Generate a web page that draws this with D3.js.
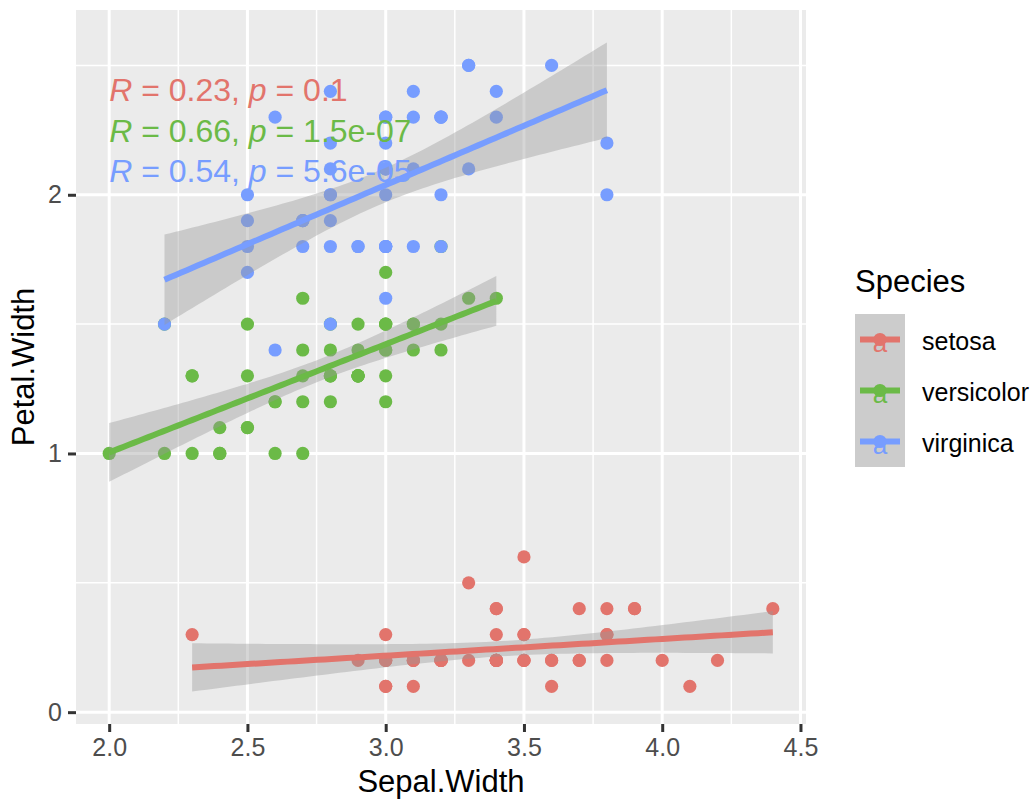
<!DOCTYPE html>
<html>
<head>
<meta charset="utf-8">
<script src="https://cdn.jsdelivr.net/npm/d3@7"></script>
<style>
  html, body { margin: 0; padding: 0; background: #ffffff; }
  svg { display: block; }
  text { font-family: "Liberation Sans", Arial, Helvetica, sans-serif; }
</style>
</head>
<body>
<svg id="chart" width="1036" height="802"></svg>
<script>
// ---------------- DATA ----------------
const species = ["setosa", "versicolor", "virginica"];
const speciesColors = ["#E2746C", "#6BBA47", "#779DFF"];

const setosaSepalWidth = [3.5,3.0,3.2,3.1,3.6,3.9,3.4,3.4,2.9,3.1,3.7,3.4,3.0,3.0,4.0,4.4,3.9,3.5,3.8,3.8,3.4,3.7,3.6,3.3,3.4,3.0,3.4,3.5,3.4,3.2,3.1,3.4,4.1,4.2,3.1,3.2,3.5,3.6,3.0,3.4,3.5,2.3,3.2,3.5,3.8,3.0,3.8,3.2,3.7,3.3];
const setosaPetalWidth = [0.2,0.2,0.2,0.2,0.2,0.4,0.3,0.2,0.2,0.1,0.2,0.2,0.1,0.1,0.2,0.4,0.4,0.3,0.3,0.3,0.2,0.4,0.2,0.5,0.2,0.2,0.4,0.2,0.2,0.2,0.2,0.4,0.1,0.2,0.2,0.2,0.2,0.1,0.2,0.2,0.3,0.3,0.2,0.6,0.4,0.3,0.2,0.2,0.2,0.2];

const versicolorSepalWidth = [3.2,3.2,3.1,2.3,2.8,2.8,3.3,2.4,2.9,2.7,2.0,3.0,2.2,2.9,2.9,3.1,3.0,2.7,2.2,2.5,3.2,2.8,2.5,2.8,2.9,3.0,2.8,3.0,2.9,2.6,2.4,2.4,2.7,2.7,3.0,3.4,3.1,2.3,3.0,2.5,2.6,3.0,2.6,2.3,2.7,3.0,2.9,2.9,2.5,2.8];
const versicolorPetalWidth = [1.4,1.5,1.5,1.3,1.5,1.3,1.6,1.0,1.3,1.4,1.0,1.5,1.0,1.4,1.3,1.4,1.5,1.0,1.5,1.1,1.8,1.3,1.5,1.2,1.3,1.4,1.4,1.7,1.5,1.0,1.1,1.0,1.2,1.6,1.5,1.6,1.5,1.3,1.3,1.3,1.2,1.4,1.2,1.0,1.3,1.2,1.3,1.3,1.1,1.3];

const virginicaSepalWidth = [3.3,2.7,3.0,2.9,3.0,3.0,2.5,2.9,2.5,3.6,3.2,2.7,3.0,2.5,2.8,3.2,3.0,3.8,2.6,2.2,3.2,2.8,2.8,2.7,3.3,3.2,2.8,3.0,2.8,3.0,2.8,3.8,2.8,2.8,2.6,3.0,3.4,3.1,3.0,3.1,3.1,3.1,2.7,3.2,3.3,3.0,2.5,3.0,3.4,3.0];
const virginicaPetalWidth = [2.5,1.9,2.1,1.8,2.2,2.1,1.7,1.8,1.8,2.5,2.0,1.9,2.1,2.0,2.4,2.3,1.8,2.2,2.3,1.5,2.3,2.0,2.0,1.8,2.1,1.8,1.8,1.8,2.1,1.6,1.9,2.0,2.2,1.5,1.4,2.3,2.4,1.8,1.8,2.1,2.4,2.3,1.9,2.3,2.5,2.3,1.9,2.0,2.3,1.8];

const corR = ["0.23", "0.66", "0.54"];
const corP = ["0.1", "1.5e-07", "5.6e-05"];

const xTicks = [2.0, 2.5, 3.0, 3.5, 4.0, 4.5];
const xTickLabels = ["2.0", "2.5", "3.0", "3.5", "4.0", "4.5"];
const xMinor = [2.25, 2.75, 3.25, 3.75, 4.25];
const yTicks = [0, 1, 2];
const yTickLabels = ["0", "1", "2"];
const yMinor = [0.5, 1.5, 2.5];

const xTitle = "Sepal.Width";
const yTitle = "Petal.Width";
const legendTitle = "Species";

// ---------------- BUILD ----------------
const sepal = [setosaSepalWidth, versicolorSepalWidth, virginicaSepalWidth];
const petal = [setosaPetalWidth, versicolorPetalWidth, virginicaPetalWidth];

const points = [];
species.forEach((s, i) => sepal[i].forEach((x, j) => points.push({ s: i, x: x, y: petal[i][j] })));

// linear model with 95% confidence band (like geom_smooth(method = "lm"))
const T975_DF48 = 2.0106;
function fitLM(xs, ys) {
  const n = xs.length;
  const mx = d3.mean(xs), my = d3.mean(ys);
  let sxx = 0, sxy = 0;
  for (let k = 0; k < n; k++) { sxx += (xs[k] - mx) ** 2; sxy += (xs[k] - mx) * (ys[k] - my); }
  const b = sxy / sxx, a = my - b * mx;
  let sse = 0;
  for (let k = 0; k < n; k++) sse += (ys[k] - a - b * xs[k]) ** 2;
  const s2 = sse / (n - 2);
  const [x0, x1] = d3.extent(xs);
  const out = [];
  const N = 80;
  for (let k = 0; k < N; k++) {
    const x = x0 + (x1 - x0) * k / (N - 1);
    const fit = a + b * x;
    const se = Math.sqrt(s2 * (1 / n + (x - mx) ** 2 / sxx));
    out.push({ x: x, y: fit, lo: fit - T975_DF48 * se, hi: fit + T975_DF48 * se });
  }
  return out;
}
const fits = species.map((s, i) => fitLM(sepal[i], petal[i]));

// domains with ggplot-like 5% expansion
const xExt = d3.extent(points, d => d.x);
const allY = points.map(d => d.y).concat(...fits.map(f => f.map(d => d.lo)), ...fits.map(f => f.map(d => d.hi)));
const yExt = d3.extent(allY);
const xPad = (xExt[1] - xExt[0]) * 0.05, yPad = (yExt[1] - yExt[0]) * 0.05;

const panel = { left: 76, right: 806, top: 10, bottom: 724 };
const x = d3.scaleLinear().domain([xExt[0] - xPad, xExt[1] + xPad]).range([panel.left, panel.right]);
const y = d3.scaleLinear().domain([yExt[0] - yPad, yExt[1] + yPad]).range([panel.bottom, panel.top]);

const svg = d3.select("#chart");
svg.append("rect").attr("width", 1036).attr("height", 802).attr("fill", "#ffffff");

// panel background
svg.append("rect").attr("x", panel.left).attr("y", panel.top)
  .attr("width", panel.right - panel.left).attr("height", panel.bottom - panel.top)
  .attr("fill", "#EBEBEB");

const grid = svg.append("g");
grid.selectAll(".xminor").data(xMinor).join("line")
  .attr("x1", d => x(d)).attr("x2", d => x(d)).attr("y1", panel.top).attr("y2", panel.bottom)
  .attr("stroke", "#ffffff").attr("stroke-width", 1.5);
grid.selectAll(".yminor").data(yMinor).join("line")
  .attr("y1", d => y(d)).attr("y2", d => y(d)).attr("x1", panel.left).attr("x2", panel.right)
  .attr("stroke", "#ffffff").attr("stroke-width", 1.5);
grid.selectAll(".xmajor").data(xTicks).join("line")
  .attr("x1", d => x(d)).attr("x2", d => x(d)).attr("y1", panel.top).attr("y2", panel.bottom)
  .attr("stroke", "#ffffff").attr("stroke-width", 3);
grid.selectAll(".ymajor").data(yTicks).join("line")
  .attr("y1", d => y(d)).attr("y2", d => y(d)).attr("x1", panel.left).attr("x2", panel.right)
  .attr("stroke", "#ffffff").attr("stroke-width", 3);

// points
svg.append("g").selectAll("circle").data(points).join("circle")
  .attr("cx", d => x(d.x)).attr("cy", d => y(d.y)).attr("r", 6.6)
  .attr("fill", d => speciesColors[d.s]);

// smooths
const area = d3.area().x(d => x(d.x)).y0(d => y(d.lo)).y1(d => y(d.hi));
const line = d3.line().x(d => x(d.x)).y(d => y(d.y));
const sm = svg.append("g");
fits.forEach((f, i) => {
  sm.append("path").attr("d", area(f)).attr("fill", "#999999").attr("fill-opacity", 0.4);
  sm.append("path").attr("d", line(f)).attr("fill", "none")
    .attr("stroke", speciesColors[i]).attr("stroke-width", 6);
});

// correlation labels
const lab = svg.append("g");
species.forEach((s, i) => {
  const t = lab.append("text")
    .attr("x", x(xExt[0])).attr("y", panel.top + 91 + i * 40.5)
    .attr("font-size", 32).attr("fill", speciesColors[i]);
  t.append("tspan").attr("font-style", "italic").text("R");
  t.append("tspan").text(" = " + corR[i] + ", ");
  t.append("tspan").attr("font-style", "italic").text("p");
  t.append("tspan").text(" = " + corP[i]);
});

// axes
const xAxis = d3.axisBottom(x).tickValues(xTicks).tickFormat((d, i) => xTickLabels[i]).tickSize(8).tickPadding(6);
const gx = svg.append("g").attr("transform", `translate(0,${panel.bottom})`).call(xAxis);
gx.select(".domain").remove();
gx.selectAll(".tick line").attr("stroke", "#333333").attr("stroke-width", 3);
gx.selectAll(".tick text").attr("fill", "#4D4D4D").attr("font-size", 25)
  .attr("font-family", '"Liberation Sans", Arial, sans-serif');

const yAxis = d3.axisLeft(y).tickValues(yTicks).tickFormat((d, i) => yTickLabels[i]).tickSize(8).tickPadding(6);
const gy = svg.append("g").attr("transform", `translate(${panel.left},0)`).call(yAxis);
gy.select(".domain").remove();
gy.selectAll(".tick line").attr("stroke", "#333333").attr("stroke-width", 3);
gy.selectAll(".tick text").attr("fill", "#4D4D4D").attr("font-size", 25)
  .attr("font-family", '"Liberation Sans", Arial, sans-serif');

// axis titles
svg.append("text").attr("x", (panel.left + panel.right) / 2).attr("y", 792)
  .attr("text-anchor", "middle").attr("font-size", 31).attr("fill", "#000").text(xTitle);
svg.append("text").attr("transform", `translate(34,${(panel.top + panel.bottom) / 2}) rotate(-90)`)
  .attr("text-anchor", "middle").attr("font-size", 31).attr("fill", "#000").text(yTitle);

// legend
const lg = svg.append("g");
const keyX = 855, keyW = 50, keyTop = 314, keyH = 51;
lg.append("text").attr("x", keyX).attr("y", 292).attr("font-size", 31).attr("fill", "#000").text(legendTitle);
species.forEach((s, i) => {
  const cy = keyTop + keyH * i + keyH / 2;
  lg.append("rect").attr("x", keyX).attr("y", keyTop + keyH * i).attr("width", keyW).attr("height", keyH)
    .attr("fill", "#CCCCCC");
  lg.append("circle").attr("cx", keyX + keyW / 2).attr("cy", cy).attr("r", 6.6).attr("fill", speciesColors[i]);
  lg.append("line").attr("x1", keyX + 5).attr("x2", keyX + keyW - 5).attr("y1", cy).attr("y2", cy)
    .attr("stroke", speciesColors[i]).attr("stroke-width", 6);
  lg.append("text").attr("x", keyX + keyW / 2).attr("y", cy + 12.5).attr("text-anchor", "middle")
    .attr("font-size", 26).attr("fill", speciesColors[i]).text("a");
  lg.append("text").attr("x", 922).attr("y", cy + 10).attr("font-size", 25).attr("fill", "#000").text(s);
});
</script>
</body>
</html>
